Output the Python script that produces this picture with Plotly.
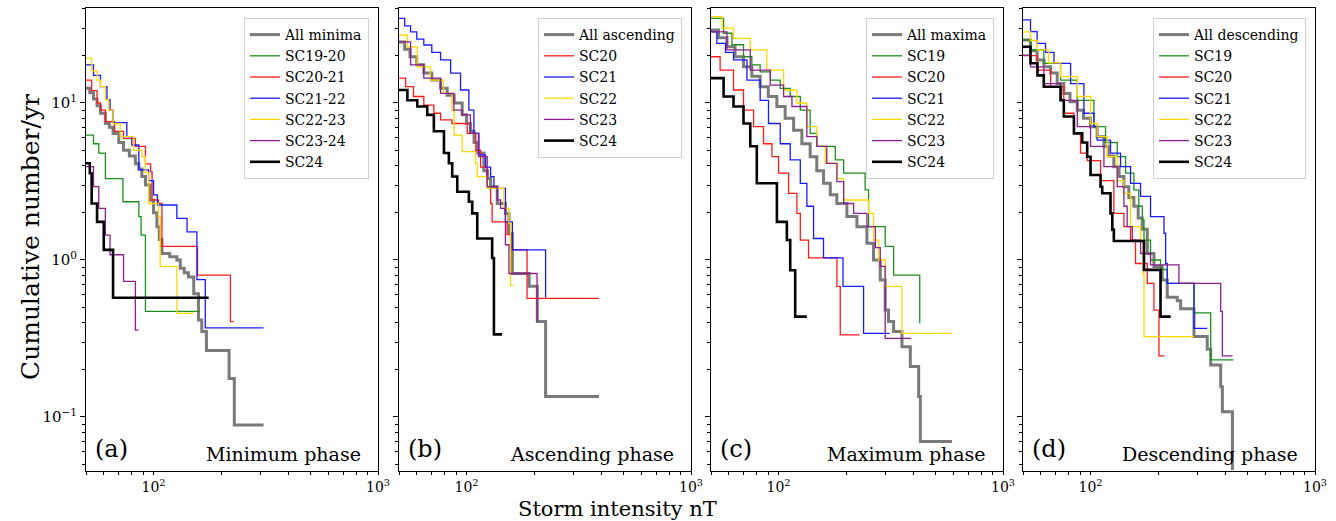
import math
import plotly.graph_objects as go

# ---------------- (a) minimum phase ----------------
min_all_x = [50, 52, 54, 56, 58, 61, 63.5, 66, 70, 73.5, 78, 83, 86, 88.7, 92, 96.6, 100, 103.5, 106, 109, 118, 127, 131.5, 137, 143, 151, 158.5, 164, 172, 217, 229, 309]
min_all_y = [12.4, 11.6, 10.6, 9.6, 8.6, 7.4, 7.0, 6.4, 5.6, 5.0, 4.6, 4.1, 3.8, 3.4, 3.0, 2.4, 2.0, 1.63, 1.35, 1.10, 1.05, 1.0, 0.885, 0.83, 0.78, 0.61, 0.415, 0.35, 0.265, 0.176, 0.089, 0.089]
min_sc1920_x = [50, 54, 57, 61, 73, 86, 88, 92, 161]
min_sc1920_y = [6.25, 5.5, 4.8, 3.3, 2.35, 1.89, 1.44, 0.47, 0.47]
min_sc2021_x = [50, 53, 56, 58, 61, 67, 73.5, 83, 92, 97, 98.5, 105, 109, 157, 220, 227]
min_sc2021_y = [14, 12, 10, 9.0, 7.6, 6.6, 5.95, 5.3, 4.1, 3.65, 2.41, 2.29, 1.22, 0.80, 0.405, 0.405]
min_sc2122_x = [50, 54, 58, 62, 64, 66, 76, 80, 86, 95, 100, 104, 127, 141, 156, 170, 309]
min_sc2122_y = [17.5, 15, 12.7, 10.5, 9.0, 7.5, 6.1, 5.4, 3.75, 3.2, 2.6, 2.24, 1.84, 1.51, 0.75, 0.37, 0.37]
min_sc2223_x = [50, 53, 56, 58, 61, 63, 66, 71, 81.5, 88.7, 92, 95, 105, 107, 127, 151]
min_sc2223_y = [19.3, 16, 14, 12.7, 10.5, 9.0, 7.4, 6.1, 5.0, 4.55, 3.6, 2.29, 1.89, 0.91, 0.457, 0.457]
min_sc2324_x = [50, 54, 57, 61, 64, 73.5, 83, 85.7]
min_sc2324_y = [3.93, 2.93, 2.13, 1.44, 1.08, 0.73, 0.358, 0.358]
min_sc24_x = [50, 52, 53, 56, 60, 66, 176]
min_sc24_y = [4.13, 3.57, 2.29, 1.75, 1.16, 0.575, 0.575]

# ---------------- (b) ascending phase ----------------
asc_all_x = [50, 53, 56, 60, 64.5, 70, 76.6, 82, 88, 95.6, 100, 104, 108, 112, 119.5, 124, 128, 137, 149, 154.5, 160, 190, 206.6, 225, 389]
asc_all_y = [24.5, 22, 19.7, 17.5, 15.5, 14, 12.4, 11.2, 10, 8.4, 7.4, 6.6, 5.6, 4.8, 3.7, 3.3, 2.93, 2.29, 1.98, 1.48, 0.82, 0.68, 0.405, 0.135, 0.135]
asc_sc20_x = [50, 53.5, 58, 64.5, 71.5, 76.6, 86, 100.7, 110, 115.5, 123.6, 128, 130, 151.6, 160, 186, 389]
asc_sc20_y = [14.4, 12.7, 11, 9.7, 8.6, 7.8, 7.4, 6.4, 5.0, 3.9, 2.93, 2.29, 1.75, 1.45, 1.16, 0.57, 0.57]
asc_sc21_x = [50, 53, 56.3, 60, 64.5, 70, 76.6, 84.9, 94, 102.4, 107.8, 113.5, 121.6, 128, 132.4, 149, 160, 225]
asc_sc21_y = [34.6, 31, 28.4, 25.5, 23.4, 21, 18.8, 15.5, 12.1, 9.0, 6.4, 4.67, 3.9, 3.4, 2.86, 1.75, 1.16, 0.575]
asc_sc22_x = [50, 54.5, 60.3, 69, 79, 86, 88, 95.6, 109.7, 111.6, 123.6, 146.6, 154.5, 157, 161.5]
asc_sc22_y = [27.1, 22.8, 17, 14, 11.5, 9.0, 6.25, 4.9, 4.13, 3.4, 2.86, 2.13, 1.71, 0.69, 0.69]
asc_sc23_x = [50, 56.3, 64.5, 76.6, 87.8, 95.6, 104, 113, 123.6, 137, 141.8, 149, 154.5, 206, 208]
asc_sc23_y = [24.5, 17.5, 14.4, 11.5, 9.0, 8.4, 6.4, 4.55, 2.93, 2.41, 2.13, 1.25, 0.82, 0.41, 0.41]
asc_sc24_x = [50, 54.5, 60.3, 66.8, 71.5, 79.3, 83.4, 86.3, 90.9, 102.4, 106, 111.6, 130, 132.4, 144]
asc_sc24_y = [12.1, 10.4, 9.5, 8.4, 6.6, 4.8, 4.13, 3.4, 2.72, 2.35, 1.98, 1.37, 1.03, 0.336, 0.336]

# ---------------- (c) maximum phase ----------------
max_all_x = [50, 54, 58.9, 64, 69.8, 76, 82.8, 90, 98.3, 107, 116.7, 127, 138.3, 148, 158.6, 170, 181.8, 201.6, 223.4, 247.6, 265, 283.8, 298.7, 309, 325.6, 354.6, 386.4, 421, 428.4, 593]
max_all_y = [29.2, 26, 22.8, 19.7, 17, 14.8, 12.7, 11, 9.5, 8, 6.7, 5.5, 4.55, 3.7, 3.08, 2.6, 2.29, 1.89, 1.63, 1.28, 1.0, 0.746, 0.48, 0.405, 0.35, 0.28, 0.21, 0.135, 0.0697, 0.0697]
max_sc19_x = [50, 56.9, 62, 69.8, 76, 82.8, 92, 101.7, 112.7, 125, 138.3, 148, 179, 195, 243, 251.8, 298.7, 325.6, 425.6]
max_sc19_y = [34.6, 27.8, 23.5, 19.7, 17.5, 15.8, 14, 12.4, 11, 9.0, 6.4, 5.3, 4.34, 3.57, 2.8, 1.63, 1.22, 0.8, 0.395]
max_sc20_x = [50, 54.9, 63, 69.8, 77.4, 85.7, 93.4, 100, 110.8, 120.7, 125, 136, 182, 188.3, 229.6]
max_sc20_y = [19.7, 16.2, 12.1, 9.0, 7.06, 5.5, 4.55, 3.57, 2.66, 1.98, 1.34, 1.03, 0.68, 0.333, 0.333]
max_sc21_x = [50, 53.1, 58, 63, 72.3, 82.8, 90.2, 101.7, 112.7, 125, 133.7, 143.2, 158.6, 193.7, 239.2, 312.5]
max_sc21_y = [28.4, 24, 21, 18.8, 14, 10.4, 7.4, 5.5, 4.34, 3.08, 2.2, 1.37, 1.03, 0.68, 0.341, 0.341]
max_sc22_x = [50, 56, 63, 74.8, 88.7, 105.3, 120.7, 133.7, 148, 161.5, 182, 195, 251.8, 265, 279, 298.7, 354.6, 593]
max_sc22_y = [35.5, 30, 25.8, 21.8, 16.2, 12.1, 10, 7.06, 5.3, 4.13, 3.3, 2.41, 1.98, 1.34, 1.0, 0.68, 0.341, 0.341]
max_sc23_x = [50, 58.9, 74.8, 91.8, 105.3, 114.7, 133.7, 148, 164, 182, 195, 216, 247.6, 270, 283.8, 298.7, 389]
max_sc23_y = [28.4, 21.8, 16.2, 13, 11, 9.5, 6.1, 5.3, 4.13, 3.16, 2.29, 1.98, 1.63, 1.2, 0.91, 0.317, 0.317]
max_sc24_x = [50, 56.9, 63, 69.8, 74.8, 80, 98.3, 108.9, 112.7, 118.6, 133.7]
max_sc24_y = [14.4, 11, 9.5, 7.4, 5.3, 3.08, 1.75, 1.34, 0.86, 0.436, 0.436]

# ---------------- (d) descending phase ----------------
desc_all_x = [50, 54, 57.8, 62, 66.4, 71, 76, 81, 87.3, 93, 100, 107, 114.7, 120, 127, 134, 140.8, 148, 156, 163, 170, 179, 191.6, 208.6, 219.6, 243.3, 252, 289, 331, 343, 380, 386.6, 428.8]
desc_all_y = [25.2, 21.5, 18.8, 17, 15.5, 13.3, 11.5, 10.2, 9.0, 8, 7.06, 6.1, 5.3, 4.6, 3.93, 3.4, 2.93, 2.5, 2.2, 1.85, 1.57, 1.1, 0.91, 0.746, 0.58, 0.55, 0.49, 0.325, 0.27, 0.214, 0.156, 0.108, 0.046]
desc_sc19_x = [50, 54, 61.9, 73.5, 87.3, 103.5, 116.6, 131.5, 143.2, 156, 164, 170, 173, 185, 205, 219.6, 289, 343, 432.6]
desc_sc19_y = [25.2, 21.8, 17.9, 14, 10.4, 7.06, 5.6, 4.55, 3.57, 2.8, 2.2, 1.8, 1.34, 1.0, 0.87, 0.71, 0.46, 0.231, 0.231]
desc_sc20_x = [50, 57.8, 66.4, 76, 84.3, 90.2, 96.6, 110.8, 127, 140.8, 150.7, 158.6, 179, 191.6, 201.7, 213.9]
desc_sc20_y = [20, 16.2, 12.7, 8.6, 6.4, 4.8, 4.3, 3.2, 1.98, 1.63, 1.34, 0.95, 0.71, 0.48, 0.245, 0.245]
desc_sc21_x = [50, 54, 57.8, 63, 68.7, 81.5, 93.4, 103.5, 107, 122.7, 136, 150.7, 167, 185, 212.4, 216, 219.6, 289, 331]
desc_sc21_y = [33.8, 28.5, 24, 21, 17.9, 13.3, 8.6, 7.06, 5.8, 4.8, 3.93, 3.08, 2.54, 1.89, 1.48, 0.95, 0.71, 0.367, 0.367]
desc_sc22_x = [50, 54, 57.8, 65, 73.5, 87.3, 100, 107, 118.6, 131.5, 140.8, 150.7, 167, 171, 173, 289]
desc_sc22_y = [28.4, 25, 21.8, 18, 14.7, 11, 7.4, 6.1, 4.55, 3.2, 2.66, 1.63, 1.34, 0.82, 0.325, 0.325]
desc_sc23_x = [50, 54, 61.9, 73.5, 87.3, 100, 114.7, 131.5, 140.8, 145.6, 153.4, 167, 185, 247.6, 380, 386.6, 428.8]
desc_sc23_y = [20.2, 17, 13.3, 10.4, 7.06, 5.3, 3.93, 2.93, 2.2, 1.63, 1.34, 1.1, 0.93, 0.71, 0.47, 0.245, 0.245]
desc_sc24_x = [50, 54, 58, 61.9, 73.5, 76, 84.3, 91.8, 96.6, 100, 110.8, 112.7, 122.7, 125, 127, 173, 205, 227.5]
desc_sc24_y = [22.8, 17.9, 15, 12.7, 10.4, 8.2, 6.4, 5.6, 4.55, 3.48, 2.93, 2.66, 1.98, 1.56, 1.32, 0.865, 0.436, 0.436]

# tick labels
x_tick_vals = [100, 1000]
x_tick_text = ["10<sup>2</sup>", "10<sup>3</sup>"]
y_tick_vals = [0.1, 1, 10]
y_tick_text = ["10<sup>\u22121</sup>", "10<sup>0</sup>", "10<sup>1</sup>"]

# line styles
GRAY = "#7a7a7a"
GREEN = "#1f8f1f"
RED = "#ff1a1a"
BLUE = "#1a1aff"
GOLD = "#ffd700"
PURPLE = "#8e1d8e"
BLACK = "#000000"
THIN, THICK_GRAY, THICK_BLACK = 1.3, 3.0, 2.6

SERIF = "DejaVu Serif"

panels = [
    dict(tag="(a)", phase="Minimum phase", series=[
        ("All minima", min_all_x, min_all_y, GRAY, THICK_GRAY),
        ("SC19-20", min_sc1920_x, min_sc1920_y, GREEN, THIN),
        ("SC20-21", min_sc2021_x, min_sc2021_y, RED, THIN),
        ("SC21-22", min_sc2122_x, min_sc2122_y, BLUE, THIN),
        ("SC22-23", min_sc2223_x, min_sc2223_y, GOLD, THIN),
        ("SC23-24", min_sc2324_x, min_sc2324_y, PURPLE, THIN),
        ("SC24", min_sc24_x, min_sc24_y, BLACK, THICK_BLACK),
    ]),
    dict(tag="(b)", phase="Ascending phase", series=[
        ("All ascending", asc_all_x, asc_all_y, GRAY, THICK_GRAY),
        ("SC20", asc_sc20_x, asc_sc20_y, RED, THIN),
        ("SC21", asc_sc21_x, asc_sc21_y, BLUE, THIN),
        ("SC22", asc_sc22_x, asc_sc22_y, GOLD, THIN),
        ("SC23", asc_sc23_x, asc_sc23_y, PURPLE, THIN),
        ("SC24", asc_sc24_x, asc_sc24_y, BLACK, THICK_BLACK),
    ]),
    dict(tag="(c)", phase="Maximum phase", series=[
        ("All maxima", max_all_x, max_all_y, GRAY, THICK_GRAY),
        ("SC19", max_sc19_x, max_sc19_y, GREEN, THIN),
        ("SC20", max_sc20_x, max_sc20_y, RED, THIN),
        ("SC21", max_sc21_x, max_sc21_y, BLUE, THIN),
        ("SC22", max_sc22_x, max_sc22_y, GOLD, THIN),
        ("SC23", max_sc23_x, max_sc23_y, PURPLE, THIN),
        ("SC24", max_sc24_x, max_sc24_y, BLACK, THICK_BLACK),
    ]),
    dict(tag="(d)", phase="Descending phase", series=[
        ("All descending", desc_all_x, desc_all_y, GRAY, THICK_GRAY),
        ("SC19", desc_sc19_x, desc_sc19_y, GREEN, THIN),
        ("SC20", desc_sc20_x, desc_sc20_y, RED, THIN),
        ("SC21", desc_sc21_x, desc_sc21_y, BLUE, THIN),
        ("SC22", desc_sc22_x, desc_sc22_y, GOLD, THIN),
        ("SC23", desc_sc23_x, desc_sc23_y, PURPLE, THIN),
        ("SC24", desc_sc24_x, desc_sc24_y, BLACK, THICK_BLACK),
    ]),
]

W, H = 1336, 521
ML, MR, MT, MB = 86, 21, 8, 50
PW, PH = W - ML - MR, H - MT - MB
panel_px = [(86, 378), (399, 691), (711, 1003), (1023, 1315)]

x_range = [math.log10(50), 3]
y_range = [-1.344, 1.605]
x_minor = [50, 60, 70, 80, 90, 200, 300, 400, 500, 600, 700, 800, 900]
y_minor = [0.05, 0.06, 0.07, 0.08, 0.09, 0.2, 0.3, 0.4, 0.5, 0.6, 0.7, 0.8, 0.9,
           2, 3, 4, 5, 6, 7, 8, 9, 20, 30, 40]

fig = go.Figure()
layout = dict(
    width=W, height=H,
    margin=dict(l=ML, r=MR, t=MT, b=MB),
    paper_bgcolor="white", plot_bgcolor="white",
    font=dict(family=SERIF, color="black"),
    annotations=[],
)

for i, panel in enumerate(panels):
    suffix = "" if i == 0 else str(i + 1)
    legend_key = "legend" + suffix
    for name, xs, ys, color, width in panel["series"]:
        fig.add_trace(go.Scatter(
            x=xs, y=ys, mode="lines", name=name,
            line=dict(color=color, width=width, shape="hv"),
            xaxis="x" + suffix, yaxis="y" + suffix, legend=legend_key,
            hoverinfo="skip",
        ))
    left, right = panel_px[i]
    dom = [(left - ML) / PW, (right - ML) / PW]
    layout["xaxis" + suffix] = dict(
        type="log", range=x_range, domain=dom, anchor="y" + suffix,
        tickmode="array", tickvals=x_tick_vals, ticktext=x_tick_text,
        ticks="outside", ticklen=3, tickwidth=1, tickcolor="black",
        minor=dict(tickmode="array", tickvals=x_minor, ticks="outside",
                   ticklen=3, tickwidth=1, tickcolor="black", showgrid=False),
        showline=True, linecolor="black", linewidth=1, mirror=True,
        showgrid=False, zeroline=False,
        tickfont=dict(family=SERIF, size=14, color="black"),
    )
    layout["yaxis" + suffix] = dict(
        type="log", range=y_range, domain=[0, 1], anchor="x" + suffix,
        tickmode="array", tickvals=y_tick_vals, ticktext=y_tick_text,
        showticklabels=(i == 0),
        ticks="outside", ticklen=5, tickwidth=1, tickcolor="black",
        minor=dict(tickmode="array", tickvals=y_minor, ticks="outside",
                   ticklen=3, tickwidth=1, tickcolor="black", showgrid=False),
        showline=True, linecolor="black", linewidth=1, mirror=True,
        showgrid=False, zeroline=False,
        tickfont=dict(family=SERIF, size=15, color="black"),
    )
    layout[legend_key] = dict(
        x=(right - 9 - ML) / PW, xanchor="right",
        y=1 - 10 / PH, yanchor="top",
        bgcolor="rgba(255,255,255,0.85)", bordercolor="#d0d0d0", borderwidth=1,
        font=dict(family=SERIF, size=14, color="black"),
        tracegroupgap=0, itemwidth=30,
    )
    layout["annotations"].append(dict(
        text=panel["tag"], xref="x" + suffix + " domain", yref="y" + suffix + " domain",
        x=0.025, y=0.012, xanchor="left", yanchor="bottom", showarrow=False,
        font=dict(family=SERIF, size=24, color="black"),
    ))
    layout["annotations"].append(dict(
        text=panel["phase"], xref="x" + suffix + " domain", yref="y" + suffix + " domain",
        x=0.95, y=0.008, xanchor="right", yanchor="bottom", showarrow=False,
        font=dict(family=SERIF, size=19, color="black"),
    ))

# shared axis titles
layout["annotations"].append(dict(
    text="Storm intensity nT", xref="paper", yref="paper",
    x=(617 - ML) / PW, y=-(508.5 - (H - MB)) / PH, xanchor="center", yanchor="middle",
    showarrow=False, font=dict(family=SERIF, size=21, color="black"),
))
layout["annotations"].append(dict(
    text="Cumulative number/yr", xref="paper", yref="paper",
    x=(30 - ML) / PW, y=((H - MB) - 237) / PH, xanchor="center", yanchor="middle",
    textangle=-90, showarrow=False, font=dict(family=SERIF, size=25, color="black"),
))

fig.update_layout(**layout)
fig.write_html("out.html")
